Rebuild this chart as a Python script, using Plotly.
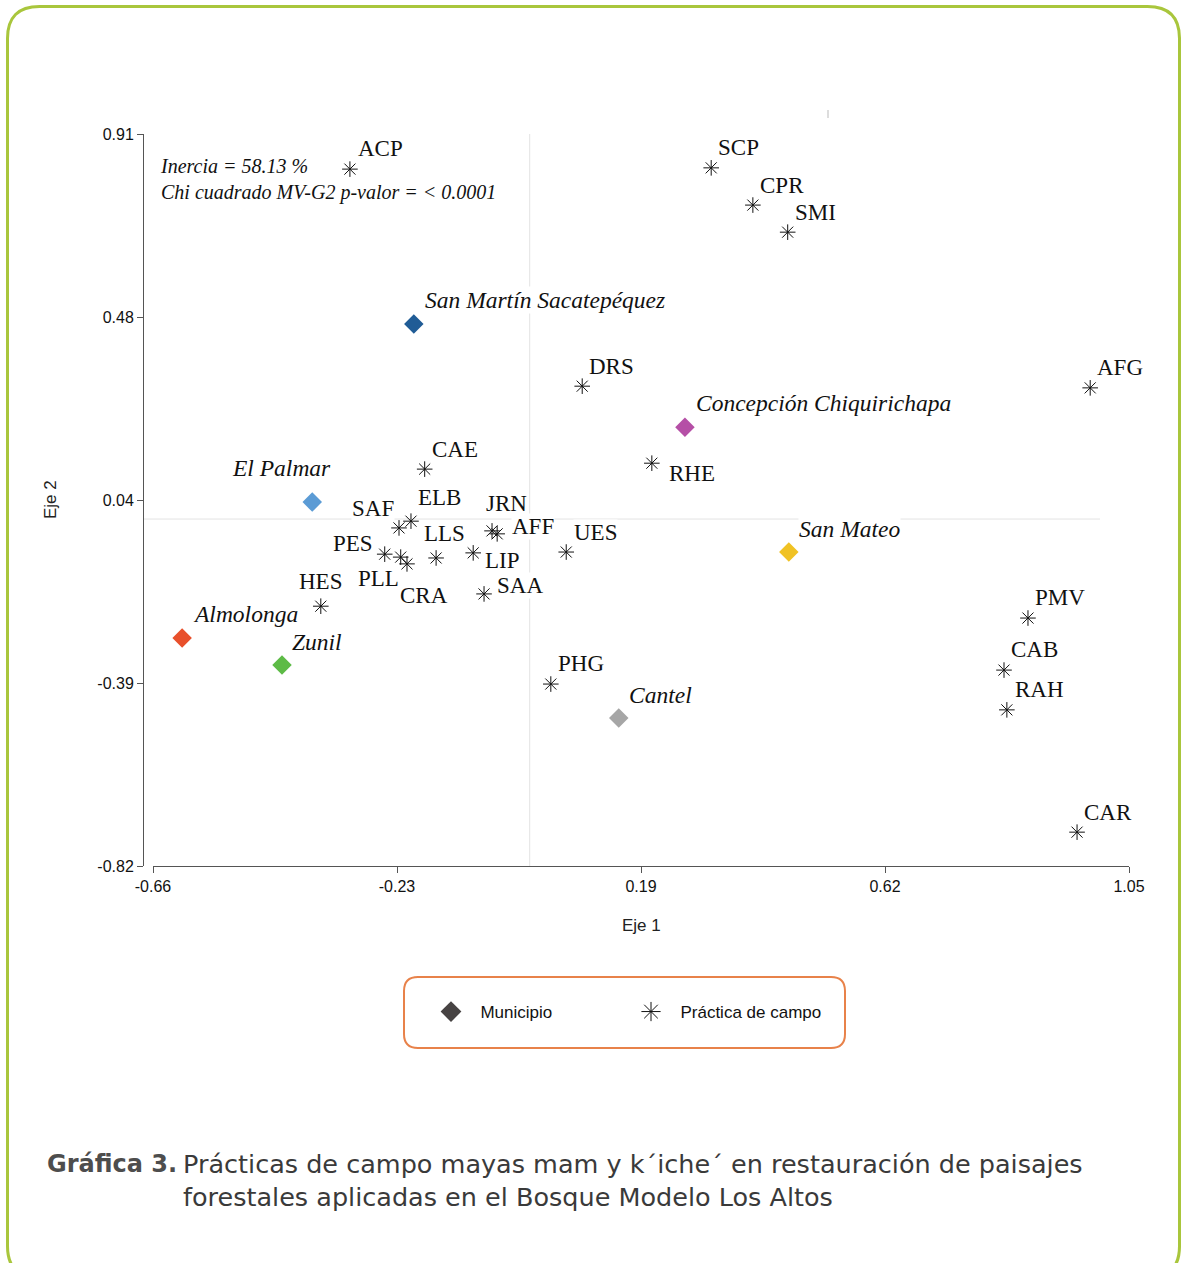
import plotly.graph_objects as go

# ---------------- data ----------------
practice_codes = ["ACP", "SCP", "CPR", "SMI", "DRS", "AFG", "RHE", "CAE", "ELB", "SAF",
                  "JRN", "AFF", "LLS", "PES", "PLL", "CRA", "LIP", "UES", "SAA", "HES",
                  "PHG", "PMV", "CAB", "RAH", "CAR"]
practice_x = [-0.315, 0.318, 0.391, 0.452, 0.092, 0.982, 0.214, -0.184, -0.208, -0.229,
              -0.066, -0.057, -0.164, -0.254, -0.226, -0.215, -0.099, 0.064, -0.080, -0.366,
              0.037, 0.873, 0.831, 0.836, 0.959]
practice_y = [0.827, 0.830, 0.742, 0.678, 0.314, 0.310, 0.132, 0.118, -0.005, -0.021,
              -0.028, -0.035, -0.092, -0.083, -0.090, -0.106, -0.080, -0.078, -0.177, -0.206,
              -0.390, -0.234, -0.357, -0.451, -0.740]

muni_names = ["San Martín Sacatepéquez", "Concepción Chiquirichapa", "El Palmar",
              "San Mateo", "Almolonga", "Zunil", "Cantel"]
muni_x = [-0.203, 0.272, -0.381, 0.454, -0.609, -0.434, 0.156]
muni_y = [0.461, 0.217, 0.040, -0.078, -0.281, -0.345, -0.470]
muni_colors = ["#205c96", "#b54fa6", "#5b9bd5", "#f0c224", "#e8502b", "#5dbb46", "#a6a6a6"]

x_tickvals = [-0.66, -0.2325, 0.195, 0.6225, 1.05]
x_ticktext = ["-0.66", "-0.23", "0.19", "0.62", "1.05"]
y_tickvals = [0.91, 0.4775, 0.045, -0.3875, -0.82]
y_ticktext = ["0.91", "0.48", "0.04", "-0.39", "-0.82"]
x_range = [-0.66, 1.05]
y_range = [-0.82, 0.91]

stats_text = "Inercia = 58.13 %<br>Chi cuadrado MV-G2 p-valor = < 0.0001"
caption_bold = "Gráfica 3."
caption_text = ("Prácticas de campo mayas mam y k´iche´ en restauración de paisajes<br>"
                "forestales aplicadas en el Bosque Modelo Los Altos")

# ---------------- label placement (pixel offsets, style only) ----------------
practice_offsets = {
    "ACP": (9, -21, "left"), "SCP": (8, -20, "left"), "CPR": (8, -20, "left"),
    "SMI": (8, -20, "left"), "DRS": (8, -20, "left"), "AFG": (8, -20, "left"),
    "RHE": (18, 10, "left"), "CAE": (8, -20, "left"), "ELB": (8, -24, "left"),
    "SAF": (-6, -19, "right"), "JRN": (-5, -27, "left"), "AFF": (16, -7, "left"),
    "LLS": (-11, -24, "left"), "PES": (-13, -11, "right"), "PLL": (-3, 21, "right"),
    "CRA": (-6, 32, "left"), "LIP": (13, 8, "left"), "UES": (9, -20, "left"),
    "SAA": (14, -8, "left"), "HES": (0, -25, "center"), "PHG": (8, -21, "left"),
    "PMV": (8, -21, "left"), "CAB": (8, -21, "left"), "RAH": (9, -20, "left"),
    "CAR": (8, -20, "left"),
}
muni_offsets = [(12, -24, "left"), (12, -24, "left"), (18, -34, "right"),
                (11, -23, "left"), (12, -24, "left"), (11, -23, "left"), (11, -23, "left")]

# ---------------- geometry ----------------
W, H = 1181, 1263
ML, MR, MT, MB = 143, 52, 134, 397
PW = W - ML - MR
PH = H - MT - MB


def pxx(px):
    return (px - ML) / PW


def pxy(py):
    return (H - MB - py) / PH


def rounded_path(x0, y0, x1, y1, r):
    pts = [
        ("M", pxx(x0 + r), pxy(y0)),
        ("L", pxx(x1 - r), pxy(y0)),
        ("Q", pxx(x1), pxy(y0), pxx(x1), pxy(y0 + r)),
        ("L", pxx(x1), pxy(y1 - r)),
        ("Q", pxx(x1), pxy(y1), pxx(x1 - r), pxy(y1)),
        ("L", pxx(x0 + r), pxy(y1)),
        ("Q", pxx(x0), pxy(y1), pxx(x0), pxy(y1 - r)),
        ("L", pxx(x0), pxy(y0 + r)),
        ("Q", pxx(x0), pxy(y0), pxx(x0 + r), pxy(y0)),
    ]
    s = ""
    for p in pts:
        s += p[0] + " " + ",".join(f"{v:.5f}" for v in p[1:]) + " "
    return s + "Z"


SERIF = "Liberation Serif, Times New Roman, serif"
SANS = "Liberation Sans, Arial, sans-serif"
CAPTION = "DejaVu Sans, Open Sans, sans-serif"

fig = go.Figure()

fig.add_trace(go.Scatter(
    x=practice_x, y=practice_y, mode="markers", showlegend=False, hoverinfo="text",
    text=practice_codes,
    marker=dict(symbol="asterisk-open", size=13, color="#111111",
                line=dict(width=1, color="#111111")),
))
fig.add_trace(go.Scatter(
    x=muni_x, y=muni_y, mode="markers", showlegend=False, hoverinfo="text",
    text=muni_names,
    marker=dict(symbol="diamond", size=15, color=muni_colors, line=dict(width=0)),
))
# legend entries
fig.add_trace(go.Scatter(
    x=[None], y=[None], mode="markers", name="\u00a0\u00a0Municipio",
    marker=dict(symbol="diamond", size=16, color="#474343"),
))
fig.add_trace(go.Scatter(
    x=[None], y=[None], mode="markers", name="\u00a0\u00a0Práctica de campo",
    marker=dict(symbol="asterisk-open", size=16, color="#111111",
                line=dict(width=1, color="#111111")),
))

annotations = []
for code, x, y in zip(practice_codes, practice_x, practice_y):
    dx, dy, anc = practice_offsets[code]
    sh = -2 if anc == "left" else (2 if anc == "right" else 0)
    annotations.append(dict(
        x=x, y=y, xref="x", yref="y", text=code, showarrow=False,
        xanchor=anc, yanchor="middle", xshift=dx + sh, yshift=-dy,
        font=dict(family=SERIF, size=23, color="#111111"),
        bgcolor="white", borderpad=0,
    ))
for name, x, y, (dx, dy, anc) in zip(muni_names, muni_x, muni_y, muni_offsets):
    sh = -2 if anc == "left" else (2 if anc == "right" else 0)
    annotations.append(dict(
        x=x, y=y, xref="x", yref="y", text=f"<i>{name}</i>", showarrow=False,
        xanchor=anc, yanchor="middle", xshift=dx + sh, yshift=-dy,
        font=dict(family=SERIF, size=23.5, color="#111111"),
        bgcolor="white", borderpad=0,
    ))

annotations += [
    dict(x=pxx(158), y=pxy(179.5), xref="paper", yref="paper", text=f"<i>{stats_text}</i>",
         showarrow=False, xanchor="left", yanchor="middle", align="left",
         font=dict(family=SERIF, size=20, color="#111111")),
    dict(x=pxx(641), y=pxy(925), xref="paper", yref="paper", text="Eje 1",
         showarrow=False, xanchor="center", yanchor="middle",
         font=dict(family=SANS, size=17, color="#222222")),
    dict(x=pxx(50), y=pxy(500), xref="paper", yref="paper", text="Eje 2", textangle=-90,
         showarrow=False, xanchor="center", yanchor="middle",
         font=dict(family=SANS, size=17, color="#222222")),
    dict(x=pxx(45), y=pxy(1164), xref="paper", yref="paper", text=f"<b>{caption_bold}</b>",
         showarrow=False, xanchor="left", yanchor="middle",
         font=dict(family=CAPTION, size=24, color="#4d4d4d")),
    dict(x=pxx(181), y=pxy(1180), xref="paper", yref="paper", text=caption_text,
         showarrow=False, xanchor="left", yanchor="middle", align="left",
         font=dict(family=CAPTION, size=25.5, color="#3a3a3a")),
]

shapes = [
    dict(type="line", xref="x", yref="y", x0=0, x1=0, y0=y_range[0], y1=y_range[1],
         line=dict(color="#e3e3e3", width=1), layer="below"),
    dict(type="line", xref="paper", yref="y", x0=0, x1=pxx(1100), y0=0, y1=0,
         line=dict(color="#e3e3e3", width=1), layer="below"),
    dict(type="line", xref="paper", yref="paper", x0=pxx(828), x1=pxx(828),
         y0=pxy(110), y1=pxy(118), line=dict(color="#bbbbbb", width=1)),
    dict(type="path", xref="paper", yref="paper", path=rounded_path(404, 977, 845, 1048, 14),
         line=dict(color="#e8824a", width=2), fillcolor="rgba(0,0,0,0)"),
    dict(type="path", xref="paper", yref="paper", path=rounded_path(7.5, 6.5, 1179.5, 1278, 32),
         line=dict(color="#a9c63c", width=3), fillcolor="rgba(0,0,0,0)"),
]

fig.update_layout(
    width=W, height=H,
    margin=dict(l=ML, r=MR, t=MT, b=MB, pad=0),
    paper_bgcolor="white", plot_bgcolor="white",
    showlegend=True,
    legend=dict(orientation="h", x=pxx(631), y=pxy(1012), xanchor="center", yanchor="middle",
                font=dict(family=SANS, size=17, color="#111111"),
                bgcolor="rgba(0,0,0,0)", entrywidth=155, itemsizing="trace"),
    annotations=annotations,
    shapes=shapes,
    xaxis=dict(range=x_range, domain=[10 / PW, 1], showgrid=False, zeroline=False,
               showline=True, linecolor="#555555", linewidth=1,
               ticks="outside", ticklen=6, tickcolor="#555555",
               tickvals=x_tickvals, ticktext=x_ticktext,
               tickfont=dict(family=SANS, size=16, color="#111111")),
    yaxis=dict(range=y_range, anchor="free", position=0, showgrid=False, zeroline=False,
               showline=True, linecolor="#555555", linewidth=1,
               ticks="outside", ticklen=6, tickcolor="#555555",
               tickvals=y_tickvals, ticktext=y_ticktext,
               tickfont=dict(family=SANS, size=16, color="#111111")),
)

fig.write_html("out.html")
